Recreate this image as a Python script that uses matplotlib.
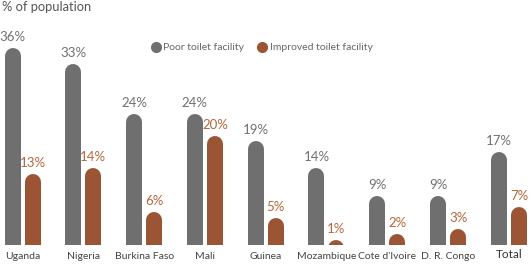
import numpy as np
import matplotlib.pyplot as plt
from matplotlib.lines import Line2D

countries = ["Uganda", "Nigeria", "Burkina Faso", "Mali", "Guinea",
             "Mozambique", "Cote d'Ivoire", "D. R. Congo", "Total"]
poor = [36, 33, 24, 24, 19, 14, 9, 9, 17]
improved = [13, 14, 6, 20, 5, 1, 2, 3, 7]

gray = "#6f6f6f"
brown = "#9b5535"
gray_txt = "#707070"
brown_txt = "#b5663b"

plt.rcParams['font.family'] = ['Lato', 'DejaVu Sans']

W, H, dpi = 531, 267, 100
fig = plt.figure(figsize=(W / dpi, H / dpi), dpi=dpi)
base_px = 22
top_px = 26
ax = fig.add_axes([0, base_px / H, 1, (H - base_px - top_px) / H])
step = 60.8
c0 = 22.5
ax.set_xlim(-c0 / step, (W - c0) / step)
ax.set_ylim(0, 40)
ax.axis('off')

# bars with rounded tops: thick lines with round caps, clipped at baseline
bar_px = 16
off = 10 / step
lw = bar_px * 72 / dpi
px_per_unit = (H - base_px - top_px) / 40
r = (bar_px / 2) / px_per_unit

x = np.arange(len(countries))
for xi, p, q in zip(x, poor, improved):
    for xx, v, col, tc in [(xi - off, p, gray, gray_txt), (xi + off, q, brown, brown_txt)]:
        ax.add_line(Line2D([xx, xx], [-5, v - r], color=col, lw=lw,
                           solid_capstyle='round', clip_on=True))
        ax.text(xx, v + 0.9, f"{v}%", ha='center', va='bottom', color=tc,
                fontsize=9.5)

for xi, name in zip(x, countries):
    big = name == "Total"
    ax.text(xi, -1.7 if big else -2.1, name, ha='center', va='center',
            color="#333333" if big else "#444444", fontsize=8.5 if big else 7.5,
            clip_on=False)

fig.text(2 / W, 1 - 7 / H, "% of population", ha='left', va='center',
         color="#555555", fontsize=9.3)

# legend
ly = 1 - 47 / H
fig.lines.append(Line2D([156 / W], [ly], marker='o', ms=7, color=gray,
                        transform=fig.transFigure, ls=''))
fig.text(163 / W, ly, "Poor toilet facility", ha='left', va='center',
         color="#666666", fontsize=7.5)
fig.lines.append(Line2D([262 / W], [ly], marker='o', ms=7, color=brown,
                        transform=fig.transFigure, ls=''))
fig.text(270 / W, ly, "Improved toilet facility", ha='left', va='center',
         color="#666666", fontsize=7.5)

fig.savefig("out.png", dpi=dpi)
